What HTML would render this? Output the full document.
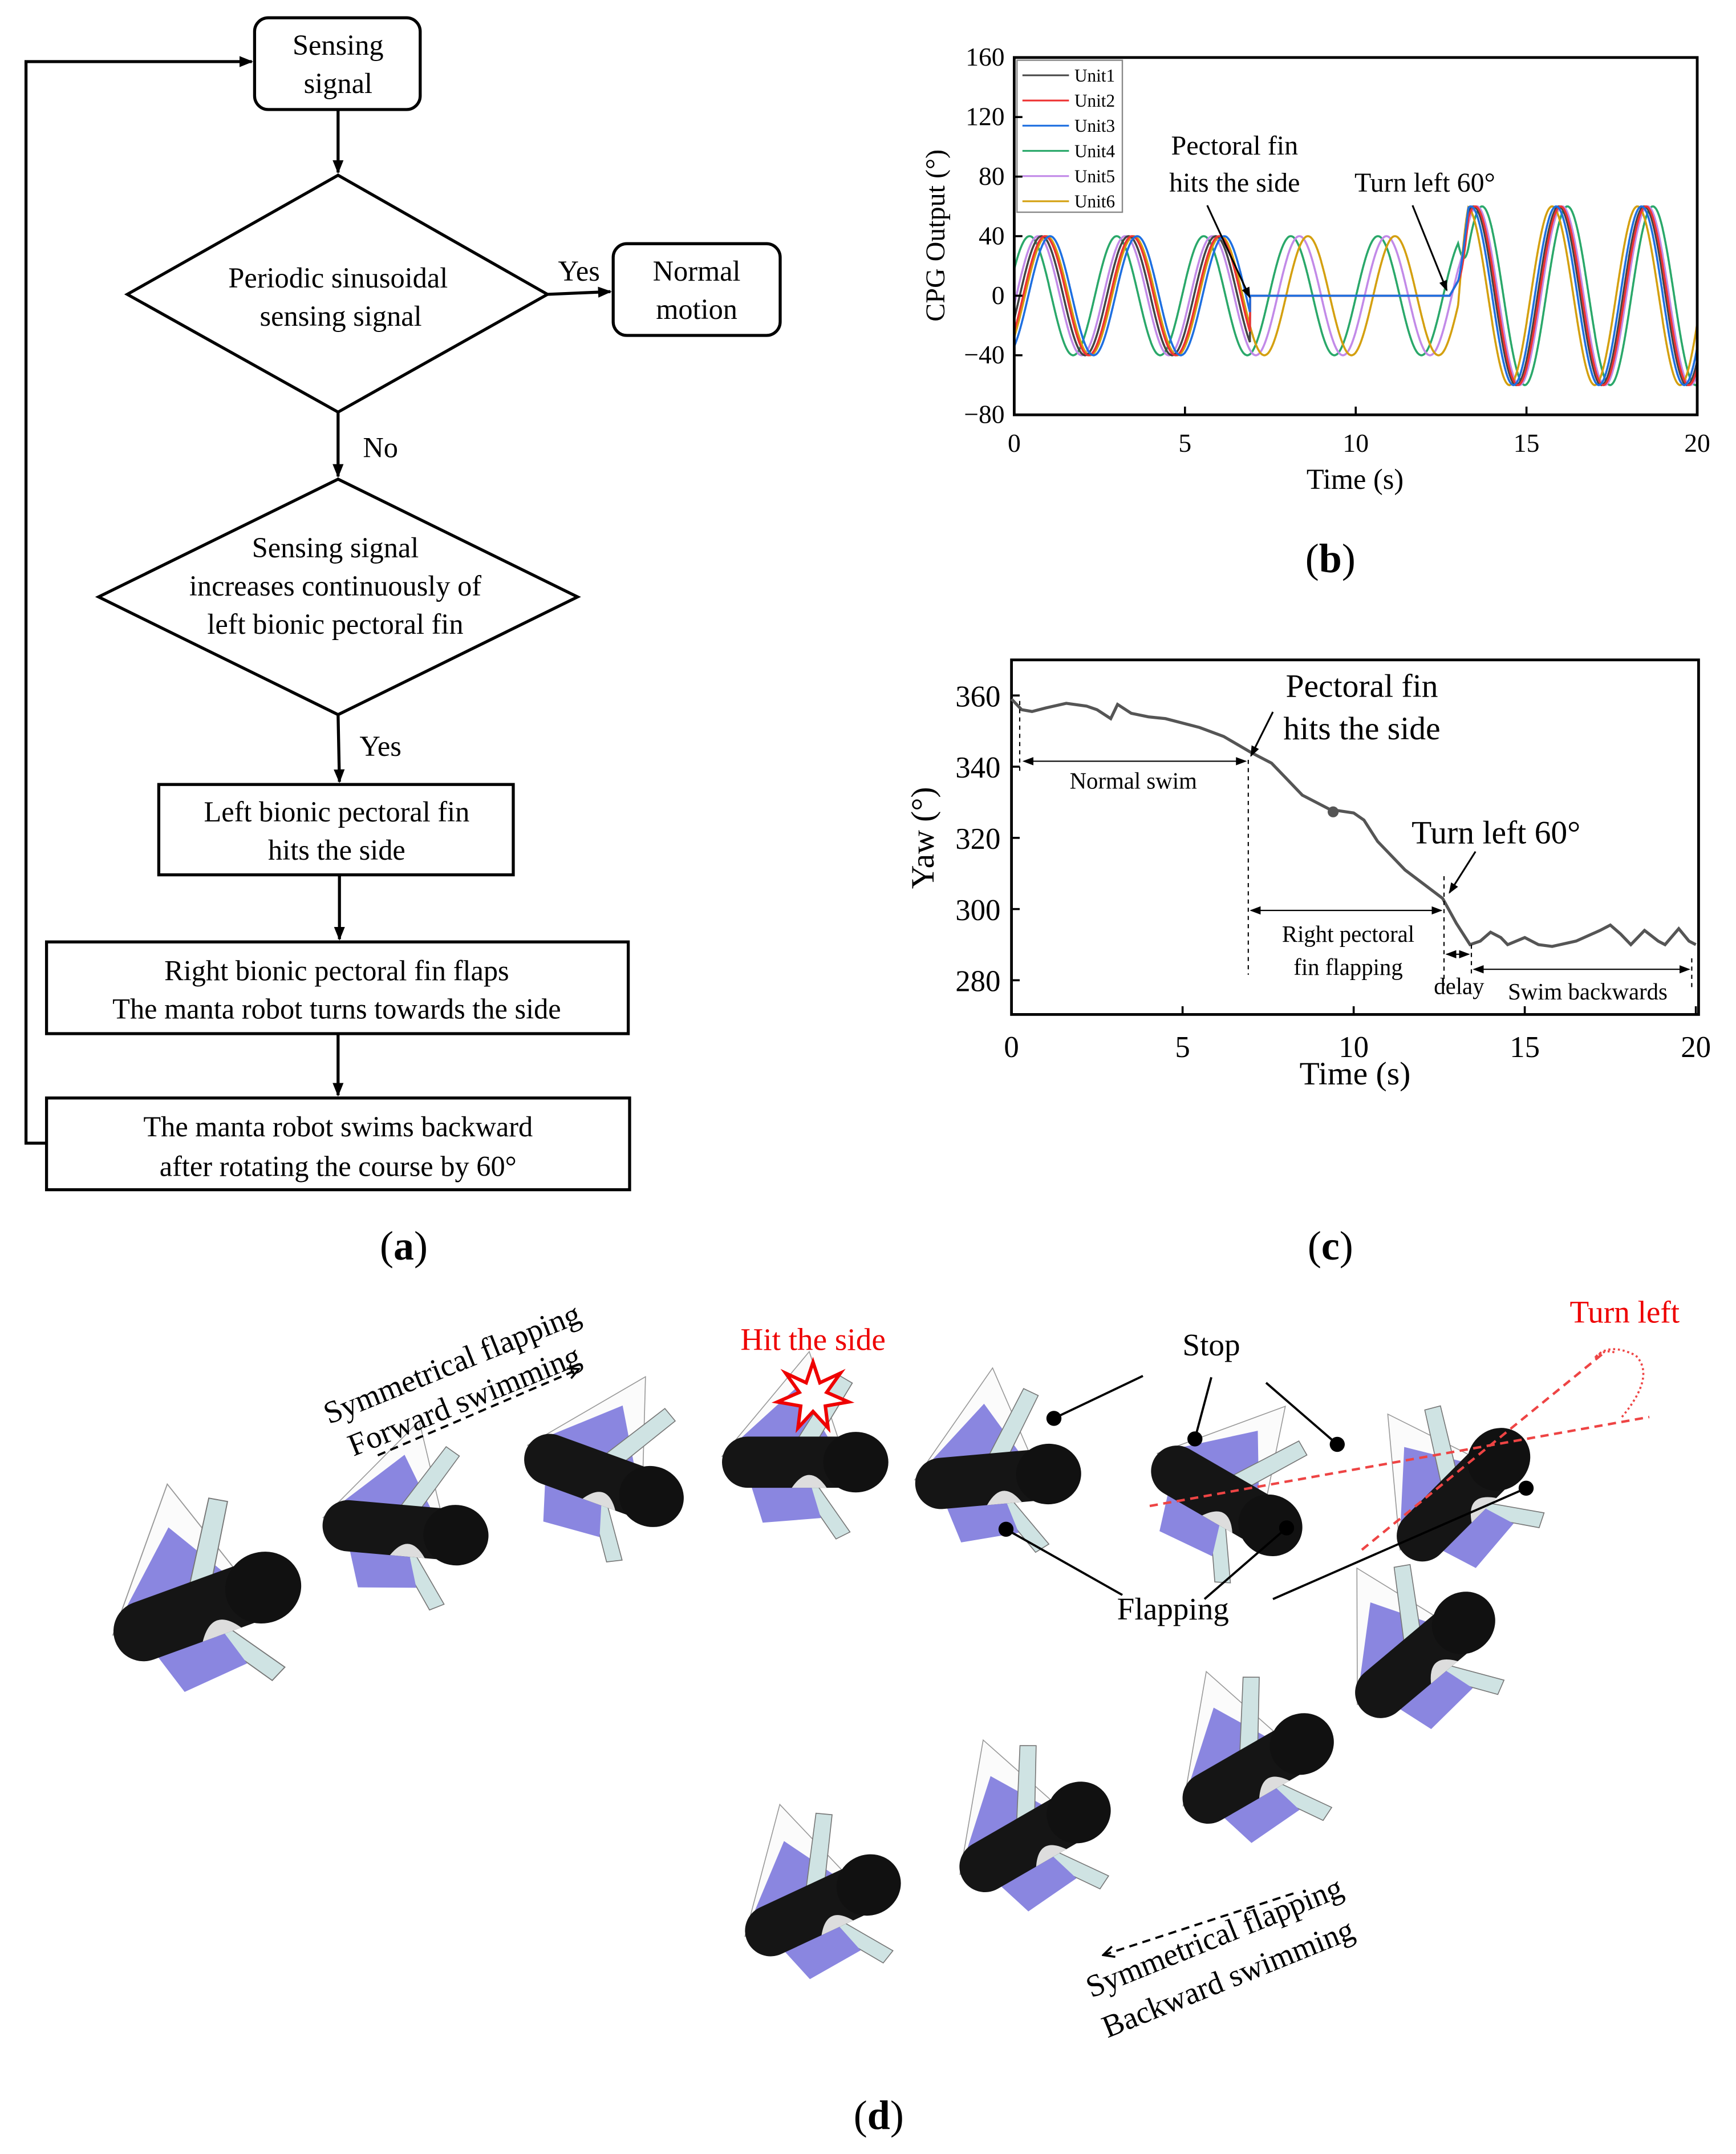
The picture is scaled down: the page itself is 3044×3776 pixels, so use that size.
<!DOCTYPE html>
<html><head><meta charset="utf-8">
<style>
html,body{margin:0;padding:0;background:#fff;}
svg{display:block;}
text{font-family:"Liberation Serif",serif;fill:#000;}
</style></head>
<body>
<svg id="s" width="3044" height="3776" viewBox="0 0 1268.33 1573.33" xmlns="http://www.w3.org/2000/svg">
<defs>
<marker id="ah" markerWidth="10" markerHeight="10" refX="9" refY="5" orient="auto" markerUnits="userSpaceOnUse"><path d="M0,1 L10,5 L0,9 Z" fill="#000"/></marker>
<marker id="ahs" markerWidth="8" markerHeight="8" refX="7" refY="4" orient="auto" markerUnits="userSpaceOnUse"><path d="M0,1 L8,4 L0,7 Z" fill="#000"/></marker>
<marker id="ahsr" markerWidth="8" markerHeight="8" refX="1" refY="4" orient="auto" markerUnits="userSpaceOnUse"><path d="M8,1 L0,4 L8,7 Z" fill="#000"/></marker>
<marker id="oa" markerWidth="10" markerHeight="10" refX="9" refY="5" orient="auto" markerUnits="userSpaceOnUse"><path d="M1,1 L9,5 L1,9" fill="none" stroke="#000" stroke-width="1.5"/></marker>
<g id="robot">
  <path d="M-70,-5 L5,-95 L45,25 Z" fill="#fbfbfb" stroke="#999" stroke-width="0.8"/>
  <path d="M-60,-15 L-5,-65 L25,-15 L-25,20 Z" fill="#8a86e0"/>
  <path d="M-5,-20 L30,-75 L42,-68 L8,-12 Z" fill="#cfe3e3" stroke="#777" stroke-width="0.8"/>
  <path d="M5,10 L40,60 L28,66 L-5,18 Z" fill="#cfe3e3" stroke="#777" stroke-width="0.8"/>
  <path d="M-45,20 L5,15 L15,48 L-35,52 Z" fill="#8a86e0"/>
  <rect x="-70" y="-22" width="140" height="44" rx="22" fill="#151515"/>
  <ellipse cx="45" cy="0" rx="28" ry="26" fill="#111"/>
  <path d="M-10,22 Q5,0 20,22 Z" fill="#ddd"/>
</g>
</defs>

<!-- ================= (a) flowchart ================= -->
<g fill="none" stroke="#000" stroke-width="2.2">
  <rect x="186" y="13" width="121" height="67" rx="10"/>
  <polygon points="247,128 93,215 247,301 400,215"/>
  <rect x="448" y="178" width="122" height="67" rx="10"/>
  <polygon points="247,350 72,436 247,522 422,436"/>
  <rect x="116" y="573" width="259" height="66"/>
  <rect x="34" y="688" width="425" height="67"/>
  <rect x="34" y="802" width="426" height="67"/>
  <line x1="247" y1="80" x2="247" y2="126" marker-end="url(#ah)"/>
  <line x1="400" y1="215" x2="446" y2="213" marker-end="url(#ah)"/>
  <line x1="247" y1="301" x2="247" y2="348" marker-end="url(#ah)"/>
  <line x1="247" y1="522" x2="248" y2="571" marker-end="url(#ah)"/>
  <line x1="248" y1="639" x2="248" y2="686" marker-end="url(#ah)"/>
  <line x1="247" y1="755" x2="247" y2="800" marker-end="url(#ah)"/>
  <polyline points="34,835 19,835 19,45 184,45" marker-end="url(#ah)"/>
</g>
<g font-size="21" text-anchor="middle">
  <text x="247" y="40">Sensing</text><text x="247" y="68">signal</text>
  <text x="247" y="210">Periodic sinusoidal</text><text x="249" y="238">sensing signal</text>
  <text x="509" y="205">Normal</text><text x="509" y="233">motion</text>
  <text x="423" y="205">Yes</text>
  <text x="278" y="334">No</text>
  <text x="245" y="407">Sensing signal</text>
  <text x="245" y="435">increases continuously of</text>
  <text x="245" y="463">left bionic pectoral fin</text>
  <text x="278" y="552">Yes</text>
  <text x="246" y="600">Left bionic pectoral fin</text><text x="246" y="628">hits the side</text>
  <text x="246" y="716">Right bionic pectoral fin flaps</text><text x="246" y="744">The manta robot turns towards the side</text>
  <text x="247" y="830">The manta robot swims backward</text><text x="247" y="859">after rotating the course by 60°</text>
</g>
<g font-size="30" text-anchor="middle">
  <text x="295" y="920">(<tspan font-weight="bold">a</tspan>)</text>
  <text x="972" y="418">(<tspan font-weight="bold">b</tspan>)</text>
  <text x="972" y="920">(<tspan font-weight="bold">c</tspan>)</text>
  <text x="642" y="1555">(<tspan font-weight="bold">d</tspan>)</text>
</g>

<!-- ================= (b) CPG ================= -->
<g id="bplot"></g>
<rect x="741" y="42" width="499" height="261" fill="none" stroke="#000" stroke-width="2"/>
<g font-size="19" text-anchor="end" id="bylab"></g>
<text font-size="20" text-anchor="middle" transform="translate(690,172) rotate(-90)">CPG Output (°)</text>
<text x="990" y="357" font-size="21" text-anchor="middle">Time (s)</text>
<rect x="743" y="44" width="77" height="111" fill="#fff" stroke="#888" stroke-width="1"/>
<g font-size="13" id="legend"></g>
<g font-size="20" text-anchor="middle">
  <text x="902" y="113">Pectoral fin</text><text x="902" y="140">hits the side</text>
  <text x="1041" y="140">Turn left 60°</text>
</g>
<line x1="882" y1="150" x2="913" y2="217" stroke="#000" stroke-width="1.3" marker-end="url(#ahs)"/>
<line x1="1032" y1="150" x2="1057" y2="212" stroke="#000" stroke-width="1.3" marker-end="url(#ahs)"/>

<!-- ================= (c) Yaw ================= -->
<rect x="739" y="482" width="502" height="259" fill="none" stroke="#000" stroke-width="2"/>
<path id="yaw" fill="none" stroke="#555" stroke-width="2.2"/>
<circle cx="974" cy="593" r="4" fill="#555"/>
<g font-size="22" text-anchor="end" id="cylab"></g>
<text font-size="24" text-anchor="middle" transform="translate(682,612) rotate(-90)">Yaw (°)</text>
<text x="990" y="792" font-size="24" text-anchor="middle">Time (s)</text>
<g stroke="#000" stroke-width="0.9" stroke-dasharray="3,3">
  <line x1="745" y1="512" x2="745" y2="565"/>
  <line x1="912" y1="555" x2="912" y2="712"/>
  <line x1="1055" y1="640" x2="1055" y2="720"/>
  <line x1="1075" y1="690" x2="1075" y2="712"/>
  <line x1="1236" y1="700" x2="1236" y2="722"/>
</g>
<g stroke="#000" stroke-width="0.9">
  <line x1="748" y1="556" x2="910" y2="556" marker-start="url(#ahsr)" marker-end="url(#ahs)"/>
  <line x1="914" y1="665" x2="1053" y2="665" marker-start="url(#ahsr)" marker-end="url(#ahs)"/>
  <line x1="1057" y1="697" x2="1073" y2="697" marker-start="url(#ahsr)" marker-end="url(#ahs)"/>
  <line x1="1077" y1="708" x2="1234" y2="708" marker-start="url(#ahsr)" marker-end="url(#ahs)"/>
  <line x1="930" y1="520" x2="914" y2="552" stroke-width="1.3" marker-end="url(#ahs)"/>
  <line x1="1078" y1="622" x2="1059" y2="652" stroke-width="1.3" marker-end="url(#ahs)"/>
</g>
<g text-anchor="middle">
  <text x="995" y="509" font-size="24">Pectoral fin</text><text x="995" y="540" font-size="24">hits the side</text>
  <text x="1093" y="616" font-size="24">Turn left 60°</text>
  <text x="828" y="576" font-size="17">Normal swim</text>
  <text x="985" y="688" font-size="17">Right pectoral</text><text x="985" y="712" font-size="17">fin flapping</text>
  <text x="1066" y="726" font-size="17">delay</text>
  <text x="1160" y="730" font-size="17">Swim backwards</text>
</g>

<!-- ================= (d) robots ================= -->
<use href="#robot" transform="translate(150,1175) rotate(-20)"/>
<use href="#robot" transform="translate(295,1118) rotate(5) scale(0.85)"/>
<use href="#robot" transform="translate(440,1080) rotate(20) scale(0.85)"/>
<use href="#robot" transform="translate(587,1068) scale(0.85)"/>
<use href="#robot" transform="translate(728,1080) rotate(-5) scale(0.85)"/>
<use href="#robot" transform="translate(895,1095) rotate(30) scale(0.85)"/>
<use href="#robot" transform="translate(1068,1093) rotate(-45) scale(0.85)"/>
<use href="#robot" transform="translate(1040,1210) rotate(-40) scale(0.85)"/>
<use href="#robot" transform="translate(918,1293) rotate(-30) scale(0.85)"/>
<use href="#robot" transform="translate(755,1343) rotate(-30) scale(0.85)"/>
<use href="#robot" transform="translate(600,1393) rotate(-25) scale(0.85)"/>

<g font-size="23" transform="rotate(-22 333 1003)"><text x="333" y="1003" text-anchor="middle">Symmetrical flapping</text></g>
<g font-size="23" transform="rotate(-22 342 1030)"><text x="342" y="1030" text-anchor="middle">Forward swimming</text></g>
<line x1="276" y1="1063" x2="423" y2="1000" stroke="#000" stroke-width="1.6" stroke-dasharray="6,4" marker-end="url(#oa)"/>
<g font-size="23" transform="rotate(-22 890 1422)"><text x="890" y="1422" text-anchor="middle">Symmetrical flapping</text></g>
<g font-size="23" transform="rotate(-22 900 1452)"><text x="900" y="1452" text-anchor="middle">Backward swimming</text></g>
<line x1="945" y1="1383" x2="806" y2="1428" stroke="#000" stroke-width="1.6" stroke-dasharray="6,4" marker-end="url(#oa)"/>

<text x="594" y="986" font-size="23" text-anchor="middle" style="fill:#e00">Hit the side</text>
<polygon points="594,995 599,1010 614,1003 604,1017 620,1024 603,1027 605,1043 594,1031 583,1043 585,1027 568,1024 584,1017 574,1003 589,1010" fill="#fff" stroke="#e00" stroke-width="2.5"/>
<text x="1187" y="966" font-size="23" text-anchor="middle" style="fill:#e00">Turn left</text>
<g stroke="#e44" stroke-width="1.8" stroke-dasharray="6,4" fill="none">
  <line x1="840" y1="1100" x2="1205" y2="1035"/>
  <line x1="995" y1="1132" x2="1172" y2="988"/>
</g>
<path d="M1185,1035 Q1210,1005 1195,990 Q1175,980 1165,992 Q1172,985 1180,988" fill="none" stroke="#e44" stroke-width="1.5" stroke-dasharray="1.5,2"/>

<text x="885" y="990" font-size="23" text-anchor="middle">Stop</text>
<text x="857" y="1183" font-size="23" text-anchor="middle">Flapping</text>
<g stroke="#000" stroke-width="1.6">
  <line x1="835" y1="1005" x2="770" y2="1036"/>
  <line x1="885" y1="1006" x2="873" y2="1051"/>
  <line x1="925" y1="1010" x2="977" y2="1055"/>
  <line x1="820" y1="1165" x2="735" y2="1117"/>
  <line x1="880" y1="1168" x2="940" y2="1116"/>
  <line x1="930" y1="1168" x2="1115" y2="1087"/>
</g>
<g fill="#000">
  <circle cx="770" cy="1036" r="5.5"/><circle cx="873" cy="1051" r="5.5"/><circle cx="977" cy="1055" r="5.5"/>
  <circle cx="735" cy="1117" r="5.5"/><circle cx="940" cy="1116" r="5.5"/><circle cx="1115" cy="1087" r="5.5"/>
</g>
</svg>
<script>
(function(){
var NS="http://www.w3.org/2000/svg";
function el(t,a,p,txt){var e=document.createElementNS(NS,t);for(var k in a)e.setAttribute(k,a[k]);if(txt!==undefined)e.textContent=txt;p.appendChild(e);return e;}
var s=document.getElementById('s');
var X=function(t){return 741+t*24.95;},Y=function(v){return 42+(160-v)*1.0875;};
var cols=["#444","#e33","#1e6fe0","#2aa86a","#c28ae8","#d4a010"];
var lag=[0.35,0.45,0.6,0,0.25,0.5];
var lag2=[0.2,0.25,0.12,0.45,0.3,0.0];
var bp=document.getElementById('bplot');
var order=[3,4,5,0,1,2];
function pre(k,t){return 40*Math.sin(2*Math.PI*(t-0.45-lag[k])/2.55+Math.PI/2);}
order.forEach(function(k){
 var d="";
 for(var i=0;i<=2000;i++){
  var t=i*0.01,v;
  if(t<13){
   if(k<3 && t>6.9 && t<12.75) v=0;
   else if(k<3 && t>=12.75) v=(t-12.75)/0.25*10;
   else v=pre(k,t);
  } else {
   v=60*Math.sin(2*Math.PI*(t-13.25-lag2[k])/2.5+Math.PI/2);
   if(t<13.3){var w=(t-13)/0.3; v=v*w+(k<3?10:pre(k,t))*(1-w);}
  }
  d+=(i?"L":"M")+X(t).toFixed(1)+","+Y(v).toFixed(1);
 }
 el('path',{d:d,fill:'none',stroke:cols[k],'stroke-width':1.5},bp);
});
var by=document.getElementById('bylab');
for(var v=160;v>=-80;v-=40){el('text',{x:734,y:Y(v)+6},by,(v<0?"\u2212":"")+Math.abs(v));el('line',{x1:741,y1:Y(v),x2:747,y2:Y(v),stroke:'#000','stroke-width':1.5},s);}
for(var t=0;t<=20;t+=5){el('text',{x:X(t),y:330,'font-size':19,'text-anchor':'middle'},s,""+t);el('line',{x1:X(t),y1:303,x2:X(t),y2:297,stroke:'#000','stroke-width':1.5},s);}
var lg=document.getElementById('legend');
for(var k=0;k<6;k++){var yy=55+k*18.4;el('line',{x1:747,y1:yy,x2:781,y2:yy,stroke:cols[k],'stroke-width':1.3},lg);el('text',{x:785,y:yy+4.5},lg,"Unit"+(k+1));}
var XC=function(t){return 739+t*25;},YC=function(v){return 508+(360-v)*2.6;};
var pts=[[0,359],[0.3,356],[0.6,355.5],[1,356.5],[1.6,357.8],[2.2,357],[2.5,356],[2.9,353.5],[3.1,357.5],[3.5,355],[4,354],[4.5,353.5],[5.5,351],[6.2,348.5],[7,344],[7.6,341],[8,337],[8.5,332],[9.3,328],[10,327],[10.3,325],[10.7,319],[11.5,311],[12.6,303],[13,296],[13.4,290],[13.7,291],[14,293.5],[14.3,292],[14.5,290],[15,292],[15.4,290],[15.8,289.5],[16.5,291],[17.2,294],[17.5,295.5],[17.8,293],[18.1,290],[18.5,294],[18.9,291],[19.1,290],[19.5,294.5],[19.8,291],[20,290]];
var d="";pts.forEach(function(p,i){d+=(i?"L":"M")+XC(p[0]).toFixed(1)+","+YC(p[1]).toFixed(1);});
document.getElementById('yaw').setAttribute('d',d);
var cy=document.getElementById('cylab');
for(var v=360;v>=280;v-=20){el('text',{x:731,y:YC(v)+8},cy,""+v);el('line',{x1:739,y1:YC(v),x2:745,y2:YC(v),stroke:'#000','stroke-width':1.5},s);}
for(var t=0;t<=20;t+=5){el('text',{x:XC(t),y:772,'font-size':22,'text-anchor':'middle'},s,""+t);el('line',{x1:XC(t),y1:741,x2:XC(t),y2:735,stroke:'#000','stroke-width':1.5},s);}
})();
</script>
</body></html>
